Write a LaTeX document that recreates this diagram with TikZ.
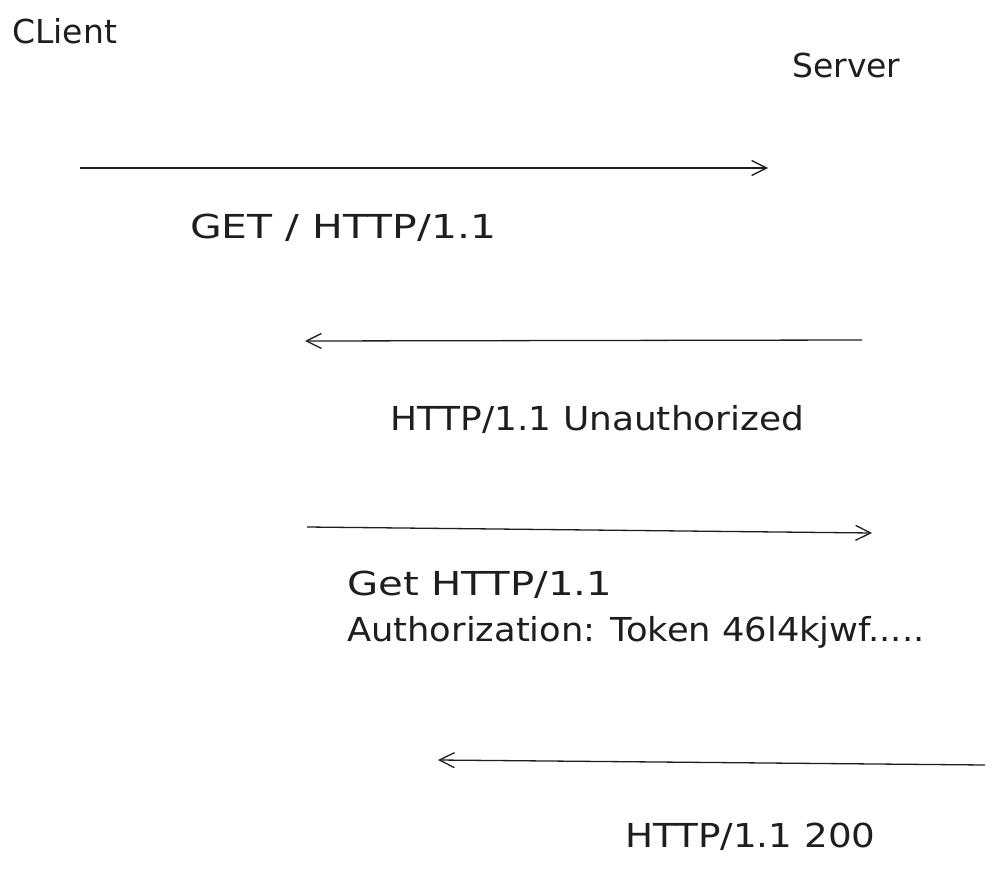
\documentclass[tikz,border=0pt]{standalone}
\usepackage{fontspec}
\setmainfont{DejaVu Sans}
\usepackage{graphicx}
\usetikzlibrary{arrows.meta}
\definecolor{ink}{HTML}{1E1E1E}
\newcommand{\hs}[2]{\scalebox{#1}[1]{#2}}
\tikzset{
  lbl/.style={anchor=base west, inner sep=0pt, text=ink, font=\fontsize{33}{46}\selectfont},
  msg/.style={draw=ink, line width=1.3pt, -{Straight Barb[length=15pt,width=15pt,line width=1.3pt]}}
}
\begin{document}
\begin{tikzpicture}[x=1pt,y=-1pt]
\useasboundingbox (0,0) rectangle (997,870);
\node[lbl] (client) at (12,43) {\hs{1.0}{CLient}};
\node[lbl] (server) at (792,77) {\hs{1.0}{Server}};
\coordinate (a1s) at (80,168);
\coordinate (a1e) at (768,168);
\draw[msg] (a1s) -- (a1e);
\node[lbl] (m1) at (190,238) {\hs{1.24}{GET / HTTP/1.1}};
\coordinate (a2s) at (862,340);
\coordinate (a2e) at (305,341);
\draw[msg] (a2s) -- (a2e);
\node[lbl] (m2) at (390,430) {\hs{1.09}{HTTP/1.1 Unauthorized}};
\coordinate (a3s) at (307,527);
\coordinate (a3e) at (872,533);
\draw[msg] (a3s) -- (a3e);
\node[lbl, align=left, anchor=north west] (m3) at (347,571) {\hs{1.22}{Get HTTP/1.1}\\\hs{1.07}{Authorization: Token 46l4kjwf.....}};
\coordinate (a4s) at (985,765);
\coordinate (a4e) at (438,760);
\draw[msg] (a4s) -- (a4e);
\node[lbl] (m4) at (625,847) {\hs{1.13}{HTTP/1.1 200}};
\end{tikzpicture}
\end{document}
